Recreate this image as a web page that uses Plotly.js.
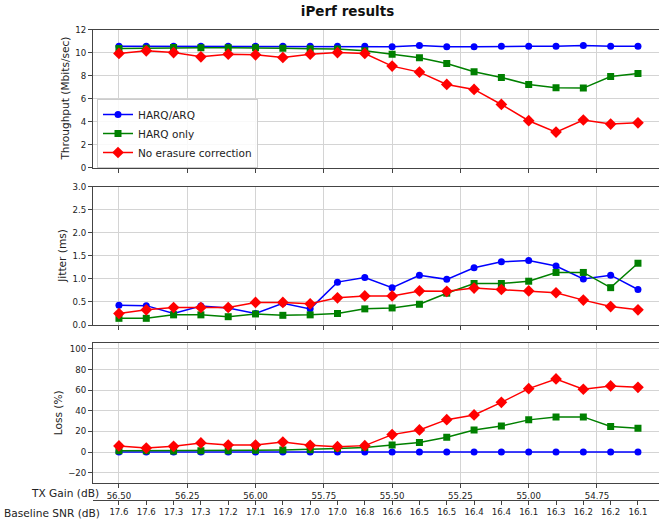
<!DOCTYPE html>
<html>
<head>
<meta charset="utf-8">
<script src="https://cdn.plot.ly/plotly-3.0.1.min.js"></script>
<style>html,body{margin:0;padding:0;background:#fff;}#chart{width:659px;height:522px;}</style>
</head>
<body>
<div id="chart"></div>
<script>
// ---- data ----
const txGain = [56.5, 56.4, 56.3, 56.2, 56.1, 56.0, 55.9, 55.8, 55.7, 55.6, 55.5, 55.4, 55.3, 55.2, 55.1, 55.0, 54.9, 54.8, 54.7, 54.6];
const snrLabels = ["17.6","17.6","17.3","17.3","17.2","17.1","16.9","17.0","17.0","16.8","16.6","16.5","16.5","16.4","16.4","16.1","16.3","16.2","16.2","16.1"];
const txTickVals = [56.5, 56.25, 56.0, 55.75, 55.5, 55.25, 55.0, 54.75];

const seriesNames = ["HARQ/ARQ", "HARQ only", "No erasure correction"];

const thrHarqArq = [10.55,10.55,10.55,10.55,10.55,10.55,10.55,10.55,10.55,10.55,10.50,10.61,10.50,10.50,10.55,10.55,10.55,10.61,10.55,10.55];
const thrHarqOnly = [10.35,10.38,10.44,10.41,10.41,10.41,10.38,10.32,10.30,10.15,9.86,9.54,9.05,8.33,7.84,7.23,6.94,6.91,7.92,8.18];
const thrNoErasure = [9.92,10.15,10.0,9.63,9.86,9.80,9.57,9.86,10.0,9.92,8.82,8.30,7.23,6.80,5.49,4.08,3.09,4.14,3.79,3.90];

const jitHarqArq = [0.43,0.42,0.25,0.41,0.37,0.25,0.47,0.35,0.93,1.03,0.81,1.08,0.99,1.24,1.37,1.40,1.28,1.00,1.08,0.77];
const jitHarqOnly = [0.145,0.145,0.22,0.22,0.18,0.24,0.21,0.22,0.25,0.35,0.37,0.45,0.69,0.90,0.90,0.95,1.14,1.14,0.81,1.34];
const jitNoErasure = [0.25,0.33,0.38,0.38,0.38,0.49,0.49,0.46,0.59,0.63,0.63,0.74,0.73,0.80,0.77,0.74,0.70,0.54,0.40,0.33];

const lossHarqArq = [0,0,0,0,0,0,0,0,0,0,0,0,0,0,0,0,0,0,0,0];
const lossHarqOnly = [1.3,1.3,1.0,1.3,1.3,1.6,2.0,2.3,3.3,4.3,6.9,9.2,14.4,21.4,25.3,31.2,34.1,34.1,24.7,23.1];
const lossNoErasure = [5.9,3.8,5.5,8.8,6.8,6.8,9.7,6.5,5.2,6.2,16.9,21.4,31.4,36.0,48.2,61.5,70.9,60.9,64.1,62.8];

// ---- styles ----
const colors = ["#0000ff", "#008000", "#ff0000"];
const symbols = ["circle", "square", "diamond"];
const sizes = [7, 7, 9];
const FONT = "DejaVu Sans, sans-serif";
const AX = "#444444";
const GRID = "#d4d4d4";
const TICK_SIZE = 8.6;
const LABEL_SIZE = 10.6;

const traces = [];
const panels = [
  {y: "y", vals: [thrHarqArq, thrHarqOnly, thrNoErasure], legend: true},
  {y: "y2", vals: [jitHarqArq, jitHarqOnly, jitNoErasure], legend: false},
  {y: "y3", vals: [lossHarqArq, lossHarqOnly, lossNoErasure], legend: false}
];
const xs = ["x", "x2", "x3"];
panels.forEach((p, pi) => {
  p.vals.forEach((v, si) => {
    traces.push({
      x: txGain, y: v, xaxis: xs[pi], yaxis: p.y,
      type: "scatter", mode: "lines+markers",
      name: seriesNames[si], showlegend: p.legend,
      line: {color: colors[si], width: 1.5},
      marker: {color: colors[si], symbol: symbols[si], size: sizes[si]},
      hoverinfo: "x+y"
    });
  });
});
// carrier trace for the secondary (Baseline SNR) axis
traces.push({
  x: txGain, y: lossHarqArq, xaxis: "x4", yaxis: "y3",
  type: "scatter", mode: "markers", marker: {opacity: 0, size: 1},
  showlegend: false, hoverinfo: "skip"
});

const xRange = [56.595, 54.523];
function xAx(anchor, labels) {
  return {
    anchor: anchor, domain: [0, 1], range: xRange, autorange: false,
    tickmode: "array", tickvals: txTickVals,
    ticktext: txTickVals.map(v => v.toFixed(2)),
    showticklabels: labels, ticks: "outside", ticklen: 4, tickcolor: AX, tickwidth: 1,
    showline: true, linecolor: AX, linewidth: 1, mirror: true,
    showgrid: true, gridcolor: GRID, gridwidth: 1, zeroline: false,
    tickfont: {family: FONT, size: TICK_SIZE, color: "#222"}
  };
}
function yAx(domain, range, tickvals, fmt, anchor) {
  return {
    domain: domain, range: range, autorange: false, anchor: anchor,
    tickmode: "array", tickvals: tickvals, ticktext: tickvals.map(fmt),
    ticks: "outside", ticklen: 4, tickcolor: AX, tickwidth: 1,
    showline: true, linecolor: AX, linewidth: 1, mirror: false,
    showgrid: true, gridcolor: GRID, gridwidth: 1, zeroline: false,
    tickfont: {family: FONT, size: TICK_SIZE, color: "#222"}
  };
}
const H = 522;
const fy = px => 1 - px / H;
const fx = px => (px - 93) / 566;

function yTitle(text, xpx, ypx) {
  return {text: text, xref: "paper", yref: "paper", x: fx(xpx), y: fy(ypx), xanchor: "center", yanchor: "middle",
          textangle: -90, showarrow: false, font: {family: FONT, size: LABEL_SIZE, color: "#222"}};
}

const layout = {
  width: 659, height: 522,
  margin: {l: 93, r: 0, t: 0, b: 0, pad: 0},
  paper_bgcolor: "#ffffff", plot_bgcolor: "#ffffff",
  font: {family: FONT, size: TICK_SIZE, color: "#222"},
  title: {text: "<b>iPerf results</b>", font: {family: FONT, size: 13.5, color: "#111"},
          xref: "container", yref: "container", x: 347.5 / 659, y: fy(11.5), xanchor: "center", yanchor: "middle"},
  showlegend: true,
  legend: {x: fx(97), y: fy(99), xanchor: "left", yanchor: "top",
           bgcolor: "rgba(255,255,255,0.85)", bordercolor: "#cccccc", borderwidth: 1,
           font: {family: FONT, size: 10.5, color: "#222"}},
  xaxis: xAx("y", false),
  xaxis2: xAx("y2", false),
  xaxis3: xAx("y3", true),
  xaxis4: {
    overlaying: "x3", anchor: "free", position: fy(500), side: "bottom",
    range: xRange, autorange: false, tickmode: "array", tickvals: txGain, ticktext: snrLabels,
    ticks: "outside", ticklen: 4, tickcolor: AX, tickwidth: 1,
    showline: true, linecolor: AX, linewidth: 1, showgrid: false, zeroline: false,
    tickfont: {family: FONT, size: TICK_SIZE, color: "#222"}
  },
  yaxis: yAx([fy(167.7), fy(29.5)], [0, 12], [0, 2, 4, 6, 8, 10, 12], v => String(v), "x"),
  yaxis2: yAx([fy(325), fy(186.7)], [0, 3], [0, 0.5, 1, 1.5, 2, 2.5, 3], v => v.toFixed(1), "x2"),
  yaxis3: yAx([fy(483.3), fy(343.3)], [-30.35, 105.5], [-20, 0, 20, 40, 60, 80, 100], v => (v < 0 ? "\u2212" + Math.abs(v) : String(v)), "x3"),
  annotations: [
    yTitle("Throughput (Mbits/sec)", 65, 98.6),
    yTitle("Jitter (ms)", 62, 255.8),
    yTitle("Loss (%)", 58, 413.3),
    {text: "TX Gain (dB)", xref: "paper", yref: "paper", x: fx(100.5), y: fy(492.5), xanchor: "right", yanchor: "middle",
     showarrow: false, font: {family: FONT, size: LABEL_SIZE, color: "#222"}},
    {text: "Baseline SNR (dB)", xref: "paper", yref: "paper", x: fx(101.5), y: fy(512.5), xanchor: "right", yanchor: "middle",
     showarrow: false, font: {family: FONT, size: LABEL_SIZE, color: "#222"}}
  ]
};

Plotly.newPlot("chart", traces, layout, {displayModeBar: false, staticPlot: true});
</script>
</body>
</html>
